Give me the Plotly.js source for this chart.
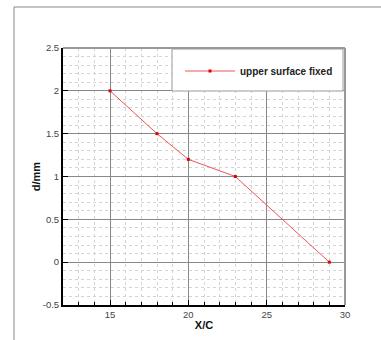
<!DOCTYPE html>
<html>
<head>
<meta charset="utf-8">
<script src="https://cdn.plot.ly/plotly-3.0.1.min.js"></script>
<style>
html,body{margin:0;padding:0;background:#fff;}
#chart{width:381px;height:340px;}
</style>
</head>
<body>
<div id="chart"></div>
<script>
const xValues = [15, 18, 20, 23, 29];
const dValues = [2.0, 1.5, 1.2, 1.0, 0.0];
const seriesName = "upper surface fixed";
const xTicks = [15, 20, 25, 30];
const yTicks = [-0.5, 0, 0.5, 1, 1.5, 2, 2.5];
const yTickLabels = ["-0.5", "0", "0.5", "1", "1.5", "2", "2.5"];

const L = 63, R = 36, T = 48, B = 35, W = 381, H = 340;
const pw = W - L - R, ph = H - T - B;
const px = v => (v - L) / pw;
const py = v => (H - B - v) / ph;

const trace = {
  x: xValues, y: dValues, name: seriesName, type: 'scatter', mode: 'lines+markers',
  line: {color: '#ee5555', width: 1},
  marker: {color: '#e00000', size: 3, symbol: 'square'}
};

const axisCommon = {
  showline: true, linecolor: '#000', linewidth: 2, mirror: false,
  ticks: 'inside', ticklen: 5, tickcolor: '#000', tickwidth: 1,
  showgrid: true, gridcolor: '#888', gridwidth: 1,
  zeroline: false,
  tickfont: {family: 'Arial, Liberation Sans, sans-serif', size: 9.5, color: '#444'}
};

const layout = {
  width: W, height: H,
  margin: {l: L, r: R, t: T, b: B, pad: 0},
  paper_bgcolor: '#fff', plot_bgcolor: '#fff',
  showlegend: true,
  legend: {x: px(180), y: py(71), xanchor: 'left', yanchor: 'middle',
    itemwidth: 50,
    bgcolor: 'rgba(0,0,0,0)', borderwidth: 0,
    font: {family: 'Arial, Liberation Sans, sans-serif', size: 10, color: '#222', weight: 'bold'}},
  xaxis: Object.assign({}, axisCommon, {
    range: [12, 30], tickvals: xTicks, ticktext: xTicks.map(String),
    minor: {dtick: 1, tick0: 0, showgrid: true, gridcolor: '#d4d4d4', griddash: 'dot', gridwidth: 1,
            ticks: 'inside', ticklen: 3, tickcolor: '#000'},
    title: {text: 'X/C', standoff: 2,
      font: {family: 'Arial, Liberation Sans, sans-serif', size: 11, color: '#111', weight: 'bold'}}
  }),
  yaxis: Object.assign({}, axisCommon, {
    range: [-0.5, 2.5], tickvals: yTicks, ticktext: yTickLabels,
    minor: {dtick: 0.1, tick0: 0, showgrid: true, gridcolor: '#d4d4d4', griddash: 'dot', gridwidth: 1,
            ticks: '', ticklen: 0},
    title: {text: 'd/mm', standoff: 0,
      font: {family: 'Arial, Liberation Sans, sans-serif', size: 11, color: '#111', weight: 'bold'}}
  }),
  shapes: [
    {type: 'line', xref: 'paper', yref: 'paper', x0: 1, x1: 1, y0: 0, y1: 1,
     line: {color: '#999', width: 2}, layer: 'above'},
    {type: 'line', xref: 'paper', yref: 'paper', x0: 0, x1: 1, y0: 1, y1: 1,
     line: {color: '#999', width: 2}, layer: 'above'},
    {type: 'rect', xref: 'paper', yref: 'paper', x0: px(172), x1: px(343), y0: py(91), y1: py(49),
     fillcolor: '#fff', line: {color: '#999', width: 1}, layer: 'above'},
    {type: 'line', xref: 'paper', yref: 'paper', x0: px(14), x1: px(381), y0: py(7), y1: py(7),
     line: {color: '#888', width: 1}, layer: 'above'},
    {type: 'line', xref: 'paper', yref: 'paper', x0: px(14), x1: px(14), y0: py(7), y1: py(340),
     line: {color: '#888', width: 1}, layer: 'above'}
  ]
};

Plotly.newPlot('chart', [trace], layout, {displayModeBar: false, staticPlot: true});
</script>
</body>
</html>
